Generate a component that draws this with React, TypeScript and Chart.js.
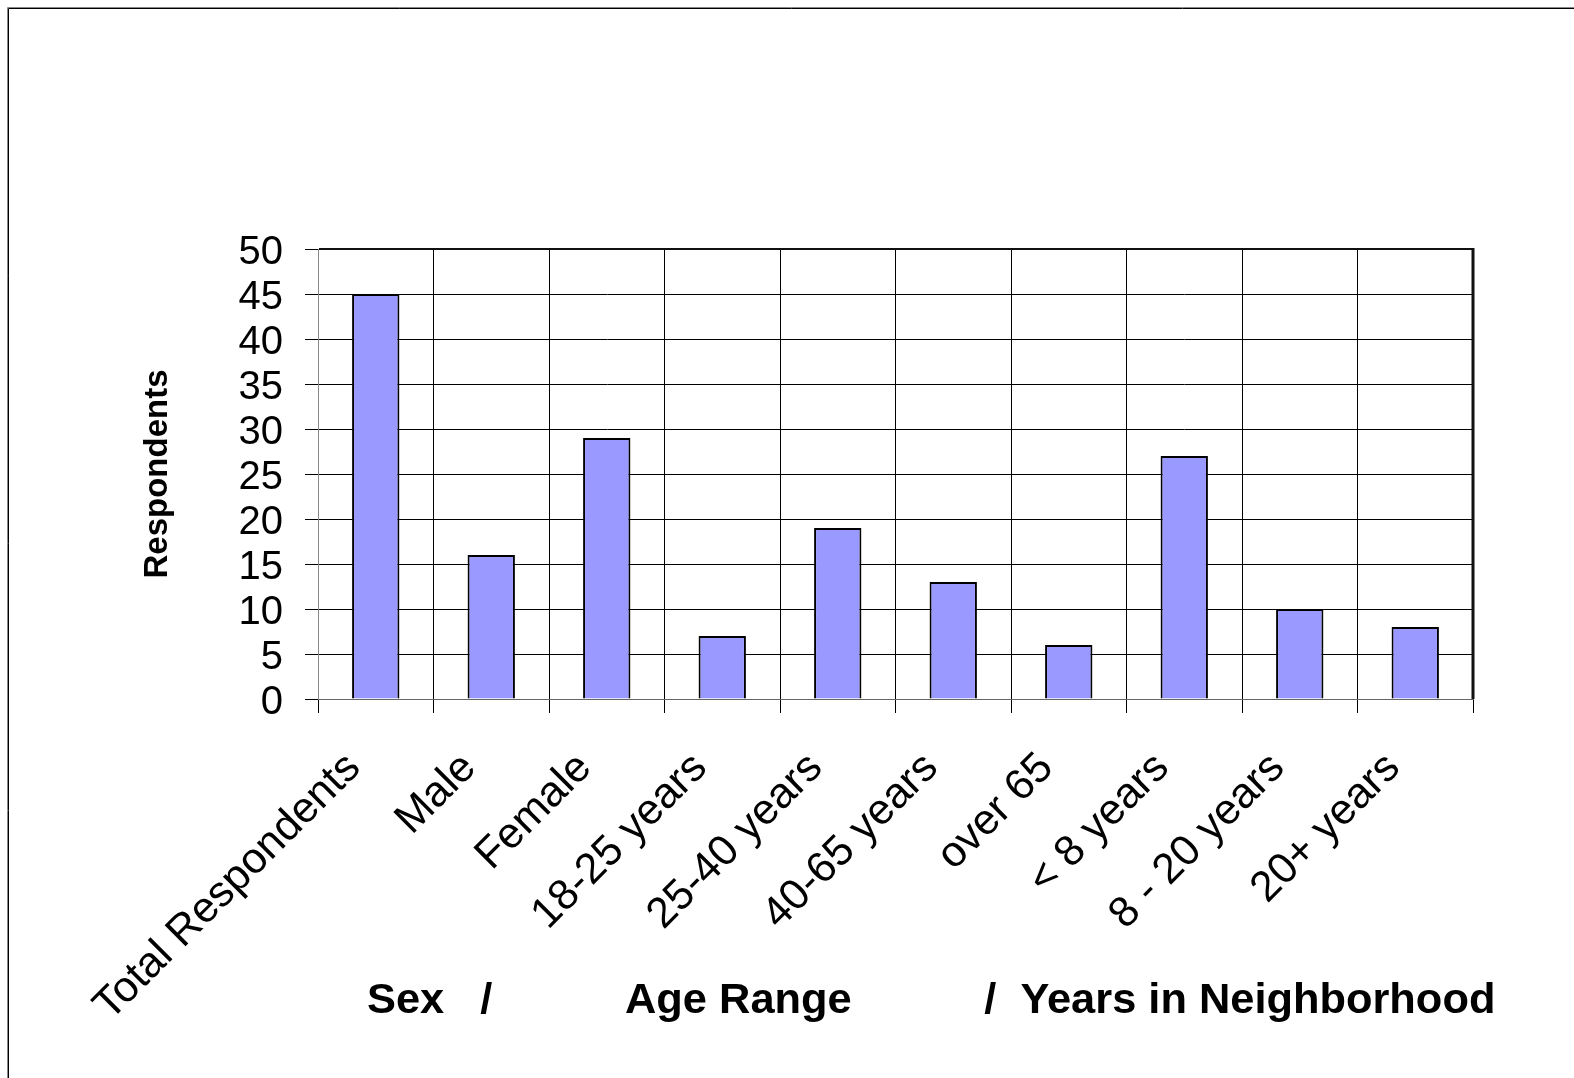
import React, { useEffect, useRef } from "react";
import { Chart, registerables } from "chart.js";

Chart.register(...registerables);

const categories = [
  "Total Respondents",
  "Male",
  "Female",
  "18-25 years",
  "25-40 years",
  "40-65 years",
  "over 65",
  "< 8 years",
  "8 - 20 years",
  "20+ years",
];
const respondents = [45, 16, 29, 7, 19, 13, 6, 27, 10, 8];
const yTitle = "Respondents";
const xTitle = "Sex   /           Age Range           /  Years in Neighborhood";
const FONT = "'Liberation Sans', Arial, sans-serif";

const framePlugin = {
  id: "frameLines",
  afterDraw(chart: any) {
    const { ctx, chartArea, width, height } = chart;
    ctx.save();
    ctx.strokeStyle = "#888";
    ctx.lineWidth = 1;
    ctx.beginPath();
    ctx.moveTo(7.5, height);
    ctx.lineTo(7.5, 7.5);
    ctx.lineTo(width, 7.5);
    ctx.stroke();
    ctx.strokeStyle = "#000";
    ctx.beginPath();
    ctx.moveTo(8.5, height);
    ctx.lineTo(8.5, 8.5);
    ctx.lineTo(width, 8.5);
    ctx.stroke();
    ctx.strokeStyle = "#111";
    ctx.lineWidth = 2;
    ctx.beginPath();
    ctx.moveTo(chartArea.left + 1, chartArea.top);
    ctx.lineTo(chartArea.right, chartArea.top);
    ctx.stroke();
    ctx.lineWidth = 3;
    ctx.beginPath();
    ctx.moveTo(chartArea.right, chartArea.top - 1);
    ctx.lineTo(chartArea.right, chartArea.bottom);
    ctx.stroke();
    // x-axis title (wider than the plot area, offset to the right)
    ctx.fillStyle = "#000";
    ctx.font = `bold 43.4px ${FONT}`;
    ctx.textAlign = "left";
    ctx.textBaseline = "alphabetic";
    ctx.fillText(xTitle, chartArea.left + 49, chartArea.bottom + 314);
    ctx.restore();
  },
};

export default function App() {
  const ref = useRef<HTMLCanvasElement | null>(null);
  useEffect(() => {
    if (!ref.current) return;
    const chart = new Chart(ref.current, {
      type: "bar",
      data: {
        labels: categories,
        datasets: [
          {
            data: respondents,
            backgroundColor: "#9999FF",
            borderColor: "#000",
            borderWidth: 2,
            barPercentage: 0.41,
            categoryPercentage: 1,
          },
        ],
      },
      options: {
        animation: false,
        responsive: false,
        devicePixelRatio: 1,
        layout: { padding: { top: 249, right: 101, left: 0, bottom: 0 } },
        plugins: { legend: { display: false }, tooltip: { enabled: false } },
        scales: {
          x: {
            afterFit(scale: any) {
              scale.height = 379;
            },
            grid: { color: "#000", lineWidth: 1, offset: true, tickLength: 14 },
            border: { color: "#666", width: 1 },
            ticks: {
              color: "#000",
              font: { family: FONT, size: 43 },
              minRotation: 45,
              maxRotation: 45,
              autoSkip: false,
              padding: 30,
              labelOffset: -22,
            },
            title: { display: false },
          },
          y: {
            min: 0,
            max: 50,
            afterFit(scale: any) {
              scale.width = 318;
            },
            grid: { color: "#000", lineWidth: 1, tickLength: 13 },
            border: { color: "#888", width: 1 },
            ticks: {
              stepSize: 5,
              autoSkip: false,
              color: "#000",
              font: { family: FONT, size: 40 },
              padding: 22,
              labelOffset: 4,
            },
            title: {
              display: true,
              text: yTitle,
              color: "#000",
              font: { family: FONT, size: 33, weight: "bold" },
              padding: { top: 138, bottom: 0 },
            },
          },
        },
      },
      plugins: [framePlugin],
    });
    return () => chart.destroy();
  }, []);
  return (
    <div style={{ position: "fixed", left: 0, top: 0, width: 1574, height: 1078, background: "#fff" }}>
      <canvas ref={ref} width={1574} height={1078} />
    </div>
  );
}
